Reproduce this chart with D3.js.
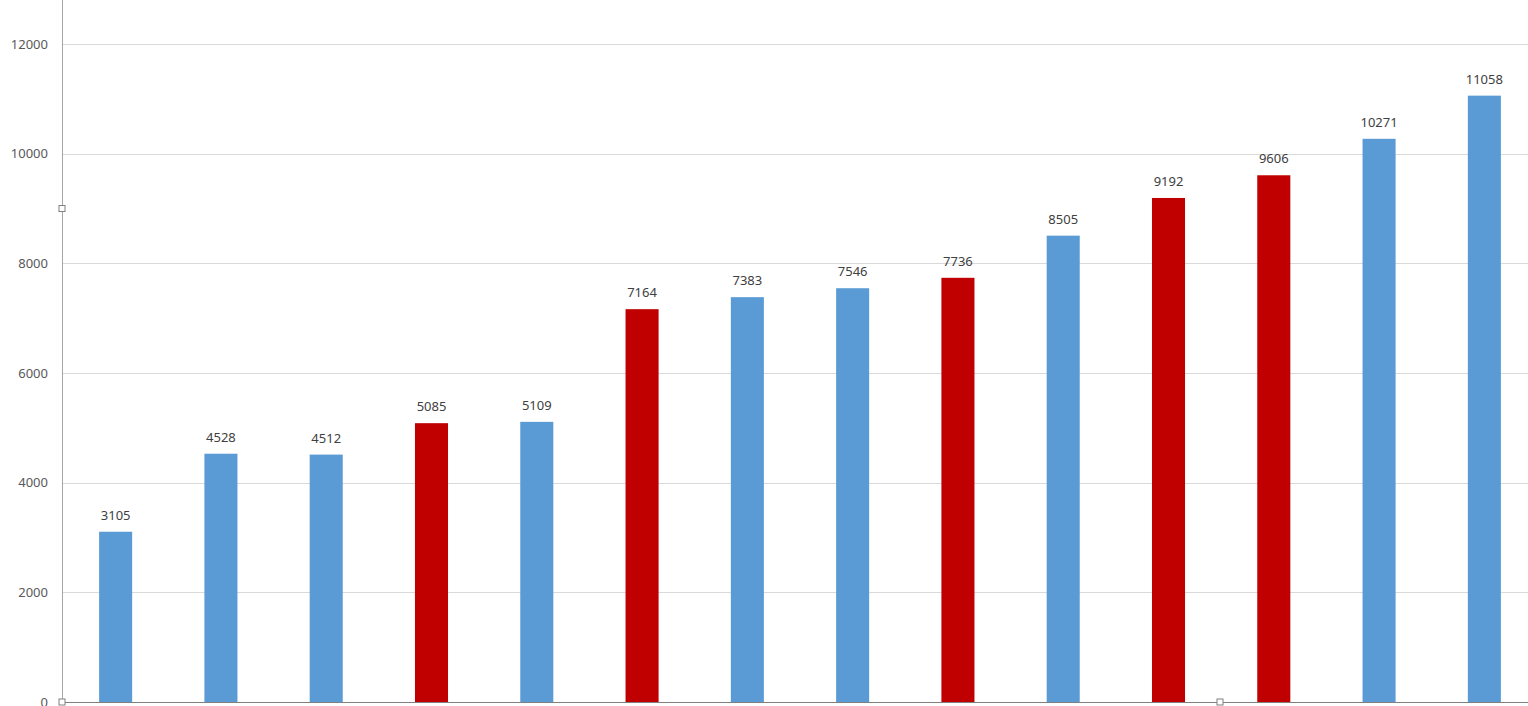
<!DOCTYPE html>
<html><head><meta charset="utf-8">
<script src="https://cdn.jsdelivr.net/npm/d3@7"></script>
<style>html,body{margin:0;padding:0;background:#fff;overflow:hidden}</style>
</head><body>
<svg id="c" width="1528" height="706"></svg>
<script>
const categories = ["c1","c2","c3","c4","c5","c6","c7","c8","c9","c10","c11","c12","c13","c14"];
const values = [3105,4528,4512,5085,5109,7164,7383,7546,7736,8505,9192,9606,10271,11058];
const highlighted = [false,false,false,true,false,true,false,false,true,false,true,true,false,false];
const yTicks = [0,2000,4000,6000,8000,10000,12000];

(function(){
const svg = d3.select("#c");
const mLeft = 62, mBottom = 702;
const x = d3.scaleBand().domain(categories).range([63, 1537]).paddingInner(0.686).paddingOuter(0.343);
const y = d3.scaleLinear().domain([0, 12000]).range([mBottom, 44]);

svg.append("g").selectAll("line").data(yTicks.filter(d=>d>0)).join("line")
  .attr("x1", mLeft).attr("x2", 1528).attr("y1", d=>Math.round(y(d))+0.5).attr("y2", d=>Math.round(y(d))+0.5)
  .attr("stroke", "#d9d9d9").attr("stroke-width", 1);

const ya = svg.append("g").attr("transform", `translate(${mLeft},0)`)
  .call(d3.axisLeft(y).tickValues(yTicks).tickSize(0).tickPadding(14).tickFormat(d3.format("d")));
ya.select(".domain").remove();
ya.selectAll("text").attr("fill","#595959").style("font-family","'Noto Sans', 'Open Sans', sans-serif").style("font-size","13px");

svg.append("line").attr("x1",mLeft+0.5).attr("x2",mLeft+0.5).attr("y1",0).attr("y2",mBottom)
  .attr("stroke","#a6a6a6").attr("stroke-width",1);

svg.append("g").selectAll("rect").data(values).join("rect")
  .attr("x", (d,i)=>x(categories[i])).attr("width", x.bandwidth())
  .attr("y", d=>y(d)).attr("height", d=>mBottom - y(d))
  .attr("fill", (d,i)=>highlighted[i] ? "#c00000" : "#5b9bd5");

svg.append("g").selectAll("text").data(values).join("text")
  .attr("x", (d,i)=>x(categories[i]) + x.bandwidth()/2).attr("y", d=>y(d) - 12)
  .attr("text-anchor","middle").attr("fill","#404040")
  .style("font-family","'Noto Sans', 'Open Sans', sans-serif").style("font-size","13px")
  .text(d=>d);

svg.append("line").attr("x1",mLeft).attr("x2",1528).attr("y1",mBottom+0.5).attr("y2",mBottom+0.5)
  .attr("stroke","#808080").attr("stroke-width",1);

const handles = [[mLeft, y(9000)],[mLeft, mBottom],[1220, mBottom]];
svg.append("g").selectAll("rect").data(handles).join("rect")
  .attr("x", d=>d[0]-3).attr("y", d=>d[1]-3).attr("width",6).attr("height",6)
  .attr("fill","#fff").attr("stroke","#808080").attr("stroke-width",1);
})();
</script>
</body></html>
